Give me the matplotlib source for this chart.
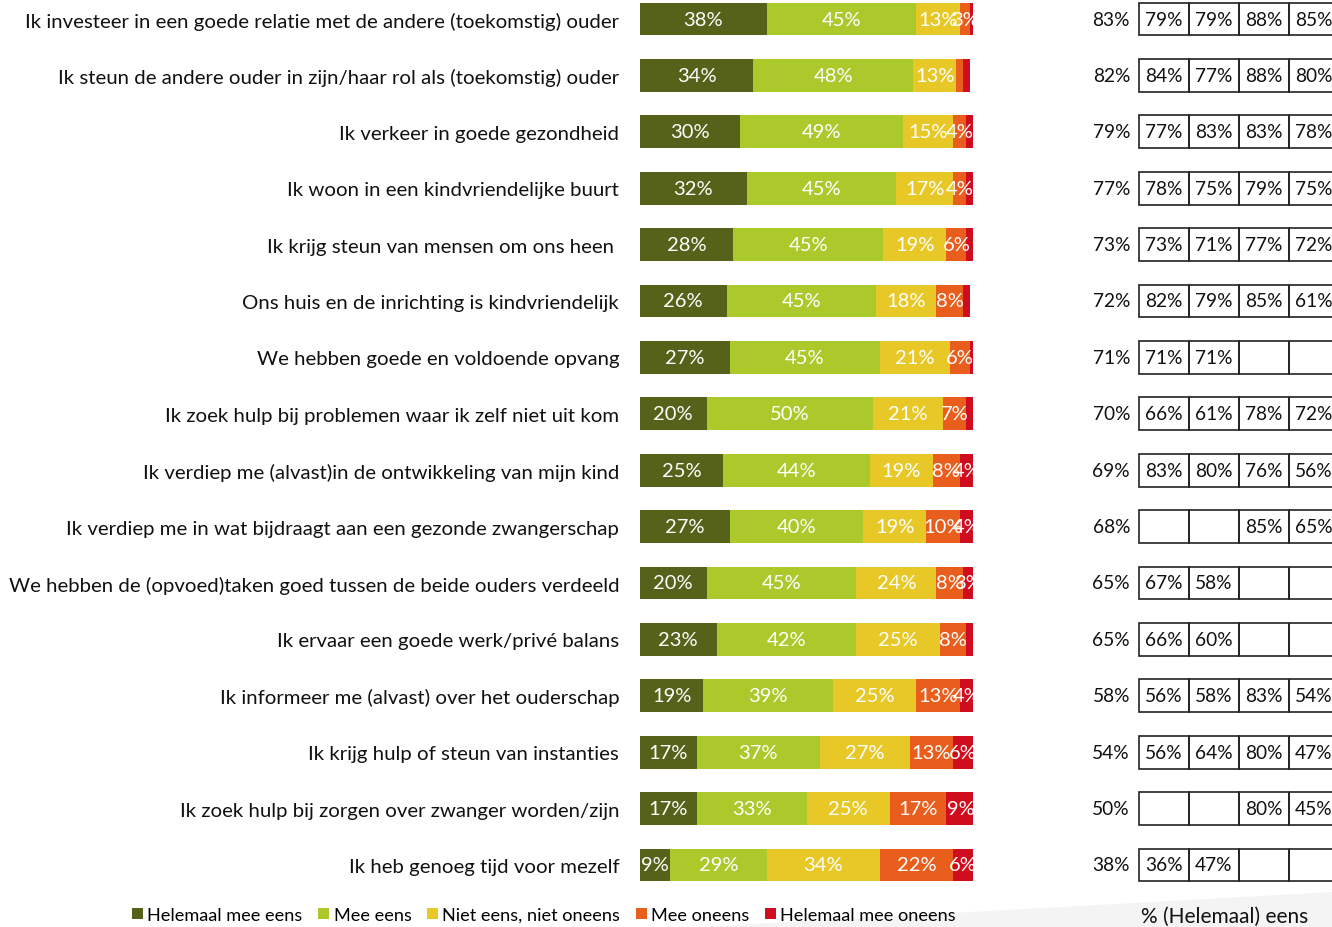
import matplotlib
matplotlib.use("Agg")
from matplotlib import pyplot as plt
from matplotlib.patches import Patch, Rectangle, Polygon
import numpy as np

plt.rcParams['font.family'] = ['Lato', 'DejaVu Sans']

statements = [
    "Ik investeer in een goede relatie met de andere (toekomstig) ouder",
    "Ik steun de andere ouder in zijn/haar rol als (toekomstig) ouder",
    "Ik verkeer in goede gezondheid",
    "Ik woon in een kindvriendelijke buurt",
    "Ik krijg steun van mensen om ons heen ",
    "Ons huis en de inrichting is kindvriendelijk",
    "We hebben goede en voldoende opvang",
    "Ik zoek hulp bij problemen waar ik zelf niet uit kom",
    "Ik verdiep me (alvast)in de ontwikkeling van mijn kind",
    "Ik verdiep me in wat bijdraagt aan een gezonde zwangerschap",
    "We hebben de (opvoed)taken goed tussen de beide ouders verdeeld",
    "Ik ervaar een goede werk/privé balans",
    "Ik informeer me (alvast) over het ouderschap",
    "Ik krijg hulp of steun van instanties",
    "Ik zoek hulp bij zorgen over zwanger worden/zijn",
    "Ik heb genoeg tijd voor mezelf",
]

categories = ["Helemaal mee eens", "Mee eens", "Niet eens, niet oneens",
              "Mee oneens", "Helemaal mee oneens"]
colors = ["#566219", "#abc92b", "#e8c827", "#e95e1d", "#d00c1f"]

helemaal_eens = [38, 34, 30, 32, 28, 26, 27, 20, 25, 27, 20, 23, 19, 17, 17, 9]
mee_eens = [45, 48, 49, 45, 45, 45, 45, 50, 44, 40, 45, 42, 39, 37, 33, 29]
neutraal = [13, 13, 15, 17, 19, 18, 21, 21, 19, 19, 24, 25, 25, 27, 25, 34]
mee_oneens = [3, 2, 4, 4, 6, 8, 6, 7, 8, 10, 8, 8, 13, 13, 17, 22]
helemaal_oneens = [1, 2, 2, 2, 2, 2, 1, 2, 4, 4, 3, 2, 4, 6, 9, 6]

totaal_eens = [83, 82, 79, 77, 73, 72, 71, 70, 69, 68, 65, 65, 58, 54, 50, 38]

# four subgroups, None = no score
groep_1 = [79, 84, 77, 78, 73, 82, 71, 66, 83, None, 67, 66, 56, 56, None, 36]
groep_2 = [79, 77, 83, 75, 71, 79, 71, 61, 80, None, 58, 60, 58, 64, None, 47]
groep_3 = [88, 88, 83, 79, 77, 85, None, 78, 76, 85, None, None, 83, 80, 80, None]
groep_4 = [85, 80, 78, 75, 72, 61, None, 72, 56, 65, None, None, 54, 47, 45, None]

W, H = 1332, 928
fig = plt.figure(figsize=(W / 100, H / 100), dpi=100)

# faint grey wedge in the lower right corner
fig.patches.append(Polygon([(700 / W, 0), (1.0, 0), (1.0, 1 - 893 / H)],
                           closed=True, transform=fig.transFigure,
                           facecolor="#f4f4f4", edgecolor="none", zorder=0))

pitch = 56.4
top = 20 - pitch / 2
ax_h = pitch * len(statements)
ax = fig.add_axes([640 / W, 1 - (top + ax_h) / H, 333 / W, ax_h / H])

series = [helemaal_eens, mee_eens, neutraal, mee_oneens, helemaal_oneens]
y = np.arange(len(statements))
left = np.zeros(len(statements))
bar_h = 0.58
for vals, col in zip(series, colors):
    vals = np.array(vals, dtype=float)
    ax.barh(y, vals, left=left, height=bar_h, color=col, edgecolor="none")
    for yi, (l, v) in enumerate(zip(left, vals)):
        if v >= 3:
            ax.text(l + v / 2, yi, f"{int(v)}%", ha="center", va="center",
                    color="white", fontsize=14.5)
    left += vals

ax.set_xlim(0, 100)
ax.set_ylim(len(statements) - 0.5, -0.5)
ax.set_yticks(y)
ax.set_yticklabels(statements, fontsize=14.7, color="#111111",
                   va="center_baseline")
ax.tick_params(axis="y", length=0, pad=15)
ax.set_xticks([])
for s in ax.spines.values():
    s.set_visible(False)

# table with the total agreement and the four subgroups
tab = fig.add_axes([1089 / W, 1 - (top + ax_h) / H, 250 / W, ax_h / H])
tab.set_xlim(-1, 4)
tab.set_ylim(len(statements) - 0.5, -0.5)
tab.axis("off")
groepen = [groep_1, groep_2, groep_3, groep_4]
for yi in range(len(statements)):
    tab.text(-0.18, yi, f"{totaal_eens[yi]}%", ha="right", va="center",
             fontsize=13.8, color="#111111")
    for ci, g in enumerate(groepen):
        tab.add_patch(Rectangle((ci, yi - bar_h / 2), 1, bar_h, fill=False,
                                edgecolor="#222222", linewidth=1.2,
                                clip_on=False))
        if g[yi] is not None:
            tab.text(ci + 0.5, yi, f"{g[yi]}%", ha="center", va="center",
                     fontsize=13.8, color="#111111")

fig.text(1225 / W, 1 - 917 / H, "% (Helemaal) eens", ha="center",
         va="center", fontsize=15, color="#111111")

handles = [Patch(facecolor=c, edgecolor="none") for c in colors]
fig.legend(handles, categories, loc="center", ncol=5,
           bbox_to_anchor=(544 / W, 1 - 916 / H), frameon=False,
           fontsize=13.1, handlelength=0.6, handleheight=0.6,
           handletextpad=0.25, columnspacing=0.85)

fig.savefig("out.png", dpi=100)
